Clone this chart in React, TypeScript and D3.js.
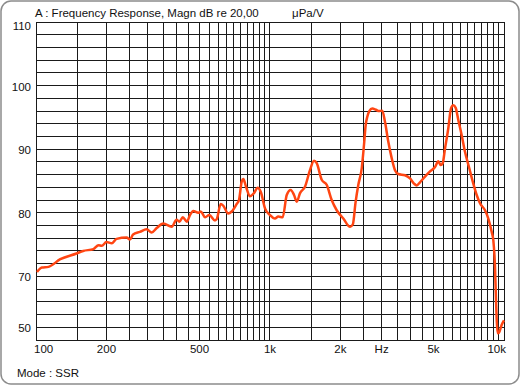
import React from "react";
import * as d3 from "d3";

const freqs = [
  101, 106, 113, 127, 149, 159, 176, 185, 191, 200, 211, 221, 244, 252, 260, 278, 297, 312, 328, 350,
  380, 399, 410, 424, 441, 455, 470, 494, 506, 528, 550, 582, 592, 616, 632, 663, 686, 721, 737, 757,
  769, 790, 821, 854, 886, 913, 952, 1000, 1050, 1085, 1133, 1179, 1226, 1267, 1301, 1344, 1411, 1482,
  1542, 1584, 1663, 1747, 1835, 1928, 2057, 2200, 2260, 2320, 2385, 2466, 2522, 2564, 2605, 2657, 2736,
  2838, 2923, 3019, 3100, 3202, 3312, 3421, 3534, 3776, 3966, 4125, 4236, 4375, 4597, 4830, 5072, 5240,
  5365, 5471, 5597, 5781, 5936, 6071, 6217, 6378, 6595, 6812, 7107, 7393, 7644, 7897, 8296, 8570, 8860,
  9002, 9152, 9245, 9308, 9400, 9520, 9777, 10000,
];
const magnitudes = [
  70.7, 71.4, 71.5, 72.7, 73.6, 74.0, 74.3, 74.9, 74.8, 75.4, 75.2, 75.9, 76.1, 75.8, 76.6, 77.0, 77.4, 76.9, 77.6, 78.3,
  77.8, 78.9, 78.6, 79.3, 78.6, 79.65, 80.3, 80.0, 80.2, 79.3, 79.65, 78.8, 79.0, 81.4, 81.1, 79.9, 80.2, 81.4, 82.0, 84.9,
  85.3, 84.1, 82.6, 83.1, 83.95, 83.3, 80.7, 79.65, 79.1, 79.4, 79.3, 82.8, 83.6, 82.8, 81.75, 83.1, 84.1, 86.7,
  88.2, 87.8, 85.2, 84.4, 82.0, 80.4, 79.1, 77.8, 78.2, 81.6, 84.4, 87.0, 90.7, 93.8, 95.1, 96.0, 96.4,
  96.2, 96.0, 96.05, 94.3, 91.2, 88.6, 86.7, 86.1, 85.9, 85.4, 84.6, 84.3, 84.8, 85.7, 86.5, 87.2, 88.1,
  87.5, 87.8, 90.1, 93.3, 96.4, 96.9, 96.5, 94.6, 92.2, 89.6, 87.0, 84.6, 82.8, 81.5, 80.4, 79.1, 77.0,
  75.7, 71.5, 66.3, 63.1, 61.05, 61.15, 62.4, 63.1,
];

const xTickValues = [100, 200, 500, 1000, 2000, 3000, 5000, 10000];
const xTickLabels = ["100", "200", "500", "1k", "2k", "Hz", "5k", "10k"];
const yTickValues = [110, 100, 90, 80, 70, 62];
const yTickLabels = ["110", "100", "90", "80", "70", "50"];

const titleText = "A : Frequency Response, Magn dB re 20,00";
const unitText = "μPa/V";
const modeText = "Mode : SSR";

const W = 520;
const H = 385;
const FONT = "'Liberation Sans', Arial, sans-serif";

export default function App() {
  const x = d3.scaleLog().domain([100, 10000]).range([36, 504]);
  const y = d3.scaleLinear().domain([60, 110]).range([340, 22]);

  const xGrid = [
    ...d3.range(100, 1000, 50),
    ...d3.range(1000, 10001, 500),
  ];
  const yGrid = d3.range(60, 111, 2);
  const px = (v: number) => Math.floor(v) + 0.5;

  const data = freqs.map((f, i) => [f, magnitudes[i]] as [number, number]);
  const line = d3
    .line<[number, number]>()
    .x((d) => x(d[0]))
    .y((d) => y(d[1]))
    .curve(d3.curveMonotoneX);

  return (
    <svg
      width={W}
      height={H}
      style={{ position: "fixed", left: 0, top: 0, background: "#fff" }}
      fontFamily={FONT}
    >
      <rect x={1} y={1} width={518} height={383} rx={10} ry={10} fill="#fff" stroke="#8c8c8c" strokeWidth={1.5} />
      <g stroke="#1a1a1a" strokeWidth={1} shapeRendering="crispEdges">
        {xGrid.map((v) => (
          <line key={"x" + v} x1={px(x(v))} x2={px(x(v))} y1={22} y2={341} />
        ))}
        {yGrid.map((v) => (
          <line key={"y" + v} x1={36} x2={505} y1={px(y(v))} y2={px(y(v))} />
        ))}
      </g>
      <path d={line(data) || ""} fill="none" stroke="#ff4512" strokeWidth={2.5} strokeLinejoin="round" />
      <g fontSize={11.5} fill="#111">
        {yTickValues.map((v, i) => (
          <text
            key={"yl" + v}
            x={31}
            y={y(v) + (i === 0 ? 4 : 1)}
            textAnchor="end"
            dominantBaseline="central"
          >
            {yTickLabels[i]}
          </text>
        ))}
        {xTickValues.map((v, i) => {
          const first = i === 0;
          const last = i === xTickValues.length - 1;
          return (
            <text
              key={"xl" + v}
              x={first ? x(v) - 2 : last ? x(v) + 2 : x(v)}
              y={353}
              textAnchor={first ? "start" : last ? "end" : "middle"}
            >
              {xTickLabels[i]}
            </text>
          );
        })}
        <text x={35} y={16.5}>{titleText}</text>
        <text x={292} y={16.5}>{unitText}</text>
        <text x={17} y={377}>{modeText}</text>
      </g>
    </svg>
  );
}
